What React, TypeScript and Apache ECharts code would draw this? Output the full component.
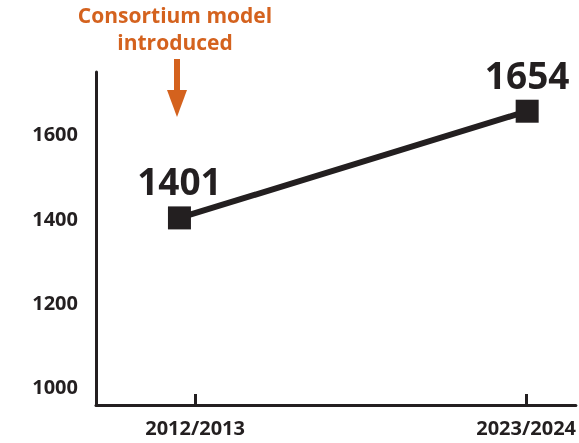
import React, { useEffect, useRef } from "react";
import * as echarts from "echarts";

const categories = ["2012/2013", "2023/2024"];
const students = [1401, 1654];
const yTickLabels = [1000, 1200, 1400, 1600];
const annotationLines = ["Consortium model", "introduced"];

const DARK = "#231f20";
const ORANGE = "#d4621e";
const FONT = "'Open Sans', sans-serif";

export default function App() {
  const ref = useRef<HTMLDivElement>(null);
  useEffect(() => {
    if (!ref.current) return;
    const chart = echarts.init(ref.current, null, { renderer: "svg" });
    const points = students.map((v, i) => [i, v]);
    const catTicks = [0.045, 0.997];
    chart.setOption({
      animation: false,
      grid: { left: 96, right: 0, top: 72, bottom: 38, containLabel: false },
      xAxis: {
        type: "value",
        min: -0.24,
        max: 1.14,
        splitLine: { show: false },
        axisLine: { show: true, onZero: false, lineStyle: { color: DARK, width: 3 } },
        axisTick: {
          show: true,
          inside: true,
          length: 11,
          customValues: catTicks,
          lineStyle: { color: DARK, width: 3 },
        },
        axisLabel: {
          customValues: catTicks,
          formatter: (v: number) => categories[Math.round(v)] ?? "",
          color: DARK,
          fontFamily: FONT,
          fontWeight: "bold",
          fontSize: 20,
          margin: 12,
        },
      },
      yAxis: {
        type: "value",
        min: 957.3,
        max: 1747,
        splitLine: { show: false },
        axisLine: { show: true, onZero: false, lineStyle: { color: DARK, width: 3 } },
        axisTick: { show: false },
        axisLabel: {
          customValues: yTickLabels,
          formatter: (v: number) => String(v),
          color: DARK,
          fontFamily: FONT,
          fontWeight: "bold",
          fontSize: 20,
          margin: 18,
          padding: [8, 0, 0, 0],
        },
      },
      series: [
        {
          type: "line",
          data: points,
          symbol: "rect",
          symbolSize: 23,
          lineStyle: { color: DARK, width: 6 },
          itemStyle: { color: DARK },
          label: {
            show: true,
            position: "top",
            distance: 7,
            formatter: (p: any) => String(p.value[1]),
            color: DARK,
            fontFamily: FONT,
            fontWeight: "bold",
            fontSize: 37,
          },
        },
      ],
      graphic: [
        {
          type: "text",
          x: 175,
          y: 15,
          style: {
            text: annotationLines[0],
            fill: ORANGE,
            font: `bold 21px ${FONT}`,
            align: "center",
            verticalAlign: "middle",
          },
        },
        {
          type: "text",
          x: 175,
          y: 42,
          style: {
            text: annotationLines[1],
            fill: ORANGE,
            font: `bold 21px ${FONT}`,
            align: "center",
            verticalAlign: "middle",
          },
        },
        {
          type: "line",
          shape: { x1: 177, y1: 59, x2: 177, y2: 92 },
          style: { stroke: ORANGE, lineWidth: 6 },
        },
        {
          type: "polygon",
          shape: { points: [[167, 90], [187, 90], [177, 117]] },
          style: { fill: ORANGE },
        },
      ],
    });
    return () => chart.dispose();
  }, []);
  return (
    <div
      ref={ref}
      style={{ position: "fixed", left: 0, top: 0, width: 579, height: 443 }}
    />
  );
}
